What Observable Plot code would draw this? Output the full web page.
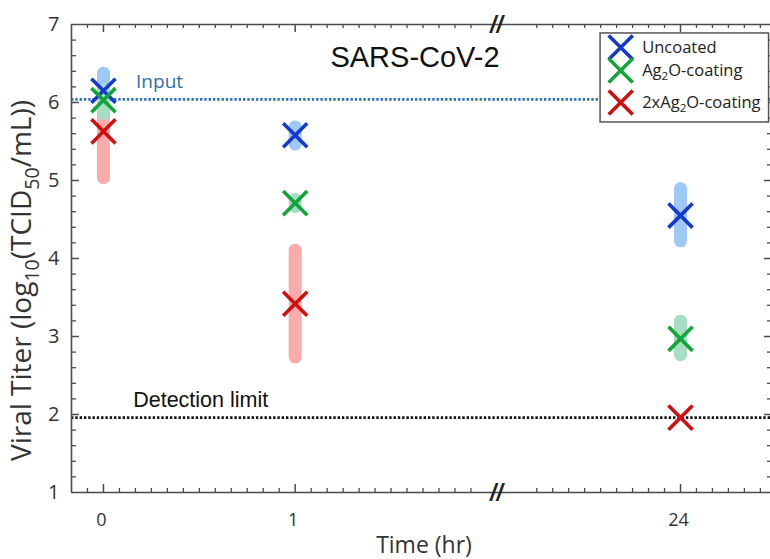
<!DOCTYPE html>
<html><head><meta charset="utf-8">
<script src="https://cdn.jsdelivr.net/npm/d3@7"></script>
<script src="https://cdn.jsdelivr.net/npm/@observablehq/plot@0.6"></script>
<style>body{margin:0;background:#fff}</style>
</head><body><div id="chart"></div>
<script>
// ---- data ----
const times = [0, 1, 24];
const seriesNames = ["Uncoated", "Ag_{2}O-coating", "2xAg_{2}O-coating"];
const uncoated   = [6.15, 5.58, 4.55];
const uncoatedLo = [5.90, 5.46, 4.22];
const uncoatedHi = [6.37, 5.68, 4.89];
const ag2o   = [6.03, 4.71, 2.97];
const ag2oLo = [5.85, 4.66, 2.76];
const ag2oHi = [6.15, 4.75, 3.19];
const ag2o2x   = [5.63, 3.42, 1.96];
const ag2o2xLo = [5.03, 2.73, null];
const ag2o2xHi = [6.22, 4.10, null];
const inputLevel = 6.04;
const detectionLimit = 1.96;
const xTickLabels = [0, 1, 24];
const yTickLabels = [1, 2, 3, 4, 5, 6, 7];
const markColors = ["#1537d2", "#12a53a", "#d20f0f"];
const barColors = ["#9dc9f4", "#a7ddc2", "#fbabab"];

// ---- build tables ----
const values = [uncoated, ag2o, ag2o2x];
const los = [uncoatedLo, ag2oLo, ag2o2xLo];
const his = [uncoatedHi, ag2oHi, ag2o2xHi];
const rows = seriesNames.map((s, si) => times.map((t, i) => ({series: s, t, v: values[si][i], lo: los[si][i], hi: his[si][i]})));

// axis geometry (in data units)
const xMin = -1/6, xBreakL = 2.05, xBreakR = 23.04, xMax = 24.48;
const pxX = 1/192, pxY = 1/78;
const xMinor = [...d3.range(-1, 25).filter(k => k % 12 !== 0).map(k => k/12),
                ...d3.range(-9, 6).filter(k => k !== 0).map(k => 24 + k/12)];
const xMajor = xTickLabels;
const yMinor = d3.range(6, 35).filter(k => k % 5 !== 0).map(k => k/5);
const yMajor = [2, 3, 4, 5, 6];
const axisColor = "#4a4a4a";
const sans = "Open Sans";
const arial = "Liberation Sans";

// legend positions (data units)
const legendY = [6.705, 6.41, 6.0];
const legendRows = seriesNames.map((s, i) => ({s, y: legendY[i], i}));

const marks = [
  // dotted reference lines
  Plot.ruleY([inputLevel], {x1: xMin, x2: xMax, stroke: "#2f72b3", strokeWidth: 2.6, strokeDasharray: "2.4,1.9"}),
  Plot.ruleY([detectionLimit], {x1: xMin, x2: xMax, stroke: "#111", strokeWidth: 2.6, strokeDasharray: "2.4,1.9"}),
  Plot.text(["Input"], {x: 0.17, y: 6.26, text: d => d, textAnchor: "start", lineAnchor: "middle", fill: "#2f6fae", fontSize: 19, fontFamily: sans}),
  Plot.text(["Detection limit"], {x: 0.155, y: 2.18, text: d => d, textAnchor: "start", lineAnchor: "middle", fill: "#111", fontSize: 21.5, fontFamily: arial}),
  // error bars (red, blue, green order)
  ...[2, 0, 1].map(si => Plot.ruleX(rows[si].filter(d => d.lo != null), {x: "t", y1: "lo", y2: "hi", stroke: barColors[si], strokeWidth: 13, strokeLinecap: "round"})),
  // markers
  ...[0, 1, 2].map(si => Plot.dot(rows[si], {x: "t", y: "v", symbol: "times", r: 11, stroke: markColors[si], strokeWidth: 3.6})),
  // frame
  Plot.ruleY([1, 7], {x1: xMin, x2: xMax, stroke: axisColor, strokeWidth: 1.6}),
  Plot.ruleX([xMin, xMax], {y1: 1, y2: 7, stroke: axisColor, strokeWidth: 1.6}),
  // x ticks bottom & top
  Plot.ruleX(xMinor, {x: d => d, y1: 1, y2: 1 + 4*pxY, stroke: axisColor, strokeWidth: 1.3}),
  Plot.ruleX(xMinor, {x: d => d, y1: 7, y2: 7 - 4*pxY, stroke: axisColor, strokeWidth: 1.3}),
  Plot.ruleX(xMajor, {x: d => d, y1: 1, y2: 1 + 8*pxY, stroke: axisColor, strokeWidth: 1.5}),
  Plot.ruleX(xMajor, {x: d => d, y1: 7, y2: 7 - 8*pxY, stroke: axisColor, strokeWidth: 1.5}),
  // y ticks left & right
  Plot.ruleY(yMinor, {y: d => d, x1: xMin, x2: xMin + 5*pxX, stroke: axisColor, strokeWidth: 1.3}),
  Plot.ruleY(yMinor, {y: d => d, x1: xMax, x2: xMax - 5*pxX, stroke: axisColor, strokeWidth: 1.3}),
  Plot.ruleY(yMajor, {y: d => d, x1: xMin, x2: xMin + 8*pxX, stroke: axisColor, strokeWidth: 1.5}),
  Plot.ruleY(yMajor, {y: d => d, x1: xMax, x2: xMax - 8*pxX, stroke: axisColor, strokeWidth: 1.5}),
  // axis break marks
  Plot.text([1, 7], {x: xBreakL, y: d => d, text: () => "//", fontSize: 23, fontWeight: "bold", fontStyle: "italic", fill: "#222", fontFamily: arial, lineAnchor: "middle", dy: 1}),
  // tick labels
  Plot.text(xTickLabels, {x: d => d, y: 1, text: d => String(d), dy: 28, dx: -2, lineAnchor: "middle", fontSize: 18, fill: "#333", fontFamily: sans}),
  Plot.text(yTickLabels, {x: xMin, y: d => d, text: d => String(d), dx: -12, textAnchor: "end", lineAnchor: "middle", fontSize: 20, fill: "#333", fontFamily: sans}),
  // axis labels
  Plot.text(["Time (hr)"], {frameAnchor: "bottom", text: d => d, dy: 53, dx: 3, textAnchor: "middle", lineAnchor: "middle", fontSize: 23, fill: "#333", fontFamily: sans}),
  Plot.text(["Viral Titer (log_{10}(TCID_{50}/mL))"], {frameAnchor: "left", text: d => d, rotate: -90, dx: -49, dy: 22, textAnchor: "middle", lineAnchor: "middle", fontSize: 28, fill: "#333", fontFamily: sans}),
  // title
  Plot.text(["SARS-CoV-2"], {x: 1.625, y: 6.58, text: d => d, lineAnchor: "middle", fontSize: 29, fill: "#111", fontFamily: arial}),
  // legend
  Plot.rect([0], {x1: 23.583, x2: 24.462, y1: 5.744, y2: 6.885, fill: "white", stroke: "#555", strokeWidth: 1.5}),
  ...legendRows.map(r => Plot.dot([r], {x: 23.688, y: "y", symbol: "times", r: 11, stroke: markColors[r.i], strokeWidth: 3.6})),
  Plot.text(legendRows, {x: 23.80, y: "y", text: "s", textAnchor: "start", lineAnchor: "middle", fontSize: 16.5, fill: "#222", fontFamily: sans})
];

const chart = Plot.plot({
  width: 770,
  height: 559,
  marginLeft: 71, marginTop: 24, marginBottom: 67, marginRight: 0,
  style: {background: "white", fontFamily: sans},
  x: {type: "linear", domain: [xMin, xBreakL, xBreakR, xMax], range: [71, 496, 496, 772], axis: null},
  y: {type: "linear", domain: [1, 7], range: [492, 24], axis: null},
  marks
});

// subscripts: turn _{..} into lowered small tspans
d3.select(chart).selectAll("text").each(function() {
  const t = this.textContent;
  if (!t.includes("_{")) return;
  const parts = t.split(/(_\{[^}]*\})/);
  const sel = d3.select(this);
  sel.text(null);
  let shifted = false;
  parts.forEach(p => {
    if (!p) return;
    if (p.startsWith("_{")) {
      sel.append("tspan").attr("font-size", "70%").attr("dy", "0.4em").text(p.slice(2, -1));
      shifted = true;
    } else {
      const ts = sel.append("tspan").text(p);
      if (shifted) { ts.attr("dy", "-0.28em"); shifted = false; }
    }
  });
});

document.getElementById("chart").append(chart);
</script>
</body></html>
